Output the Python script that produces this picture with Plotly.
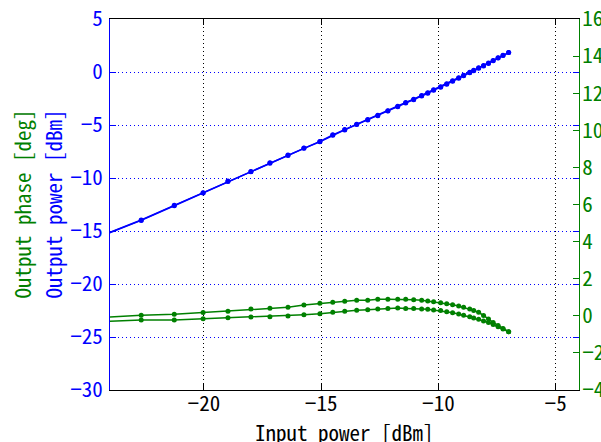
import plotly.graph_objects as go

# Input power sweep points [dBm]
input_dbm = [-24.4, -22.67, -21.26, -20.03, -18.97, -17.99, -17.18, -16.41, -15.73, -15.05,
             -14.50, -13.99, -13.48, -13.01, -12.58, -12.15, -11.73, -11.39, -11.05, -10.71,
             -10.45, -10.20, -9.90, -9.64, -9.39, -9.13, -8.92, -8.66, -8.49, -8.28,
             -8.07, -7.86, -7.66, -7.45, -7.24, -7.00]

# Output power [dBm], increasing and decreasing sweep
pout_up = [-15.47, -13.96, -12.58, -11.39, -10.29, -9.38, -8.57, -7.84, -7.16, -6.55,
           -5.93, -5.42, -4.92, -4.48, -4.08, -3.65, -3.23, -2.88, -2.57, -2.22,
           -1.96, -1.68, -1.39, -1.11, -0.83, -0.55, -0.31, -0.03, 0.16, 0.39,
           0.61, 0.85, 1.08, 1.34, 1.58, 1.83]
pout_down = [-15.50, -14.00, -12.62, -11.42, -10.33, -9.42, -8.61, -7.88, -7.20, -6.59,
             -5.97, -5.46, -4.96, -4.52, -4.12, -3.69, -3.27, -2.92, -2.61, -2.26,
             -2.00, -1.72, -1.43, -1.15, -0.87, -0.59, -0.35, -0.07, 0.12, 0.35,
             0.57, 0.81, 1.05, 1.31, 1.56, 1.83]

# Output phase [deg], increasing and decreasing sweep
phase_up = [-0.09, 0.03, 0.08, 0.18, 0.24, 0.36, 0.41, 0.46, 0.58, 0.67,
            0.73, 0.78, 0.84, 0.84, 0.89, 0.89, 0.89, 0.89, 0.87, 0.84,
            0.80, 0.76, 0.71, 0.65, 0.60, 0.53, 0.46, 0.37, 0.28, 0.19,
            0.02, -0.17, -0.36, -0.52, -0.68, -0.86]
phase_down = [-0.31, -0.23, -0.22, -0.16, -0.10, -0.06, -0.05, -0.01, 0.06, 0.11,
              0.19, 0.24, 0.30, 0.33, 0.37, 0.40, 0.42, 0.40, 0.40, 0.37,
              0.35, 0.31, 0.28, 0.22, 0.17, 0.10, 0.03, -0.05, -0.12, -0.19,
              -0.28, -0.36, -0.47, -0.59, -0.71, -0.86]

# Tick positions and labels
x_ticks = [-20, -15, -10, -5]
power_ticks = [-30, -25, -20, -15, -10, -5, 0, 5]
phase_ticks = [-4, -2, 0, 2, 4, 6, 8, 10, 12, 14, 16]


def tick_text(vals):
    return [("\u2212" + str(abs(v))) if v < 0 else str(v) for v in vals]


BLUE = "#0000ff"
GREEN = "#008000"
FONT = "Noto Sans Mono CJK JP, Liberation Sans Narrow, Liberation Sans"
FS = 21
DOTS = "1px,3px"

fig = go.Figure()
for ys in (pout_up, pout_down):
    fig.add_trace(go.Scatter(x=input_dbm, y=ys, mode="lines+markers", yaxis="y",
                             line=dict(color=BLUE, width=1.5),
                             marker=dict(size=5, color=BLUE)))
for ys in (phase_up, phase_down):
    fig.add_trace(go.Scatter(x=input_dbm, y=ys, mode="lines+markers", yaxis="y2",
                             line=dict(color=GREEN, width=1.5),
                             marker=dict(size=5, color=GREEN)))

fig.update_layout(
    width=601, height=442,
    margin=dict(l=110, r=22, t=19, b=52),
    paper_bgcolor="white", plot_bgcolor="white",
    showlegend=False,
    xaxis=dict(range=[-24, -4], tickvals=x_ticks, ticktext=tick_text(x_ticks),
               ticks="inside", ticklen=6, ticklabelstandoff=-5,
               tickcolor="black", showline=True, linecolor="black", linewidth=1,
               mirror="ticks", showgrid=True, gridcolor="black", griddash=DOTS,
               gridwidth=1, zeroline=False, automargin=False,
               tickfont=dict(family=FONT, size=FS, color="black")),
    yaxis=dict(range=[-30, 5], tickvals=power_ticks, ticktext=tick_text(power_ticks),
               ticks="inside", ticklen=6, tickcolor=BLUE,
               showline=True, linecolor=BLUE, linewidth=1, mirror="ticks",
               showgrid=True, gridcolor=BLUE, griddash=DOTS, gridwidth=1,
               zeroline=False, automargin=False, ticklabelstandoff=2,
               tickfont=dict(family=FONT, size=FS, color=BLUE)),
    yaxis2=dict(overlaying="y", side="right", range=[-4, 16], tickvals=phase_ticks,
                ticktext=tick_text(phase_ticks),
                ticks="inside", ticklen=6, tickcolor=GREEN, showline=True,
                linecolor=GREEN, linewidth=1, showgrid=False, zeroline=False,
                automargin=False, ticklabelstandoff=-2,
                tickfont=dict(family=FONT, size=FS, color=GREEN)),
    annotations=[
        dict(text="Output power [dBm]", xref="paper", yref="paper", x=0, y=0.5,
             xanchor="center", yanchor="middle",
             xshift=-58, textangle=-90, showarrow=False,
             font=dict(family=FONT, size=FS, color=BLUE)),
        dict(text="Output phase [deg]", xref="paper", yref="paper", x=0, y=0.5,
             xanchor="center", yanchor="middle",
             xshift=-89, textangle=-90, showarrow=False,
             font=dict(family=FONT, size=FS, color=GREEN)),
        dict(text="Input power [dBm]", xref="paper", yref="paper", x=0.5, y=0,
             xanchor="center", yanchor="top", yshift=-25, showarrow=False,
             font=dict(family=FONT, size=FS, color="black")),
    ],
)

fig.write_html("out.html")
